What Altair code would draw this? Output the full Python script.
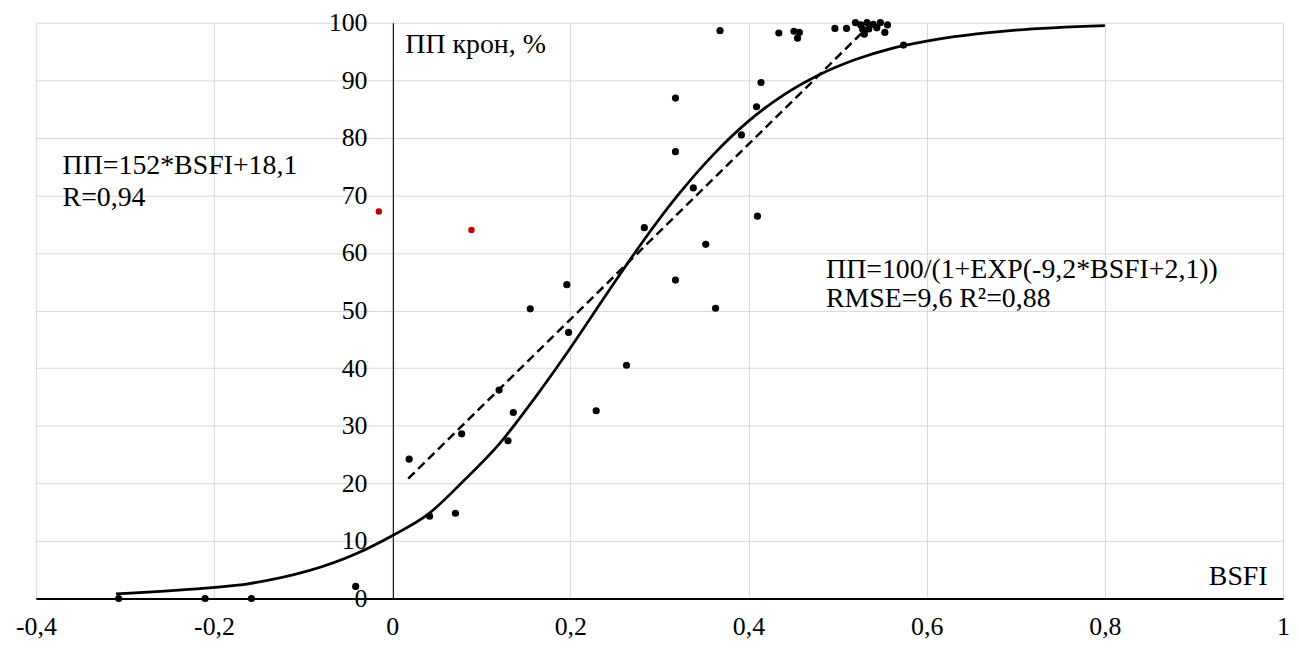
import altair as alt
import pandas as pd

# ---- data ----
pts_x = [-0.307, -0.210, -0.158, -0.041,
         0.019, 0.042, 0.071, 0.078, 0.120, 0.130, 0.136, 0.155, 0.196, 0.198,
         0.229, 0.263, 0.283, 0.318, 0.318, 0.318, 0.338, 0.352, 0.363, 0.368,
         0.392, 0.409, 0.410, 0.414, 0.434, 0.451, 0.457, 0.455, 0.497, 0.510,
         0.520, 0.526, 0.530, 0.533, 0.540, 0.544, 0.548, 0.553, 0.556, 0.535,
         0.528, 0.574]
pts_y = [0.0, 0.0, 0.0, 2.1,
         24.2, 14.3, 14.8, 28.6, 36.2, 27.4, 32.3, 50.3, 54.5, 46.2,
         32.6, 40.5, 64.4, 86.9, 77.6, 55.3, 71.3, 61.5, 50.4, 98.6,
         80.5, 85.4, 66.4, 89.6, 98.2, 98.5, 98.3, 97.3, 99.0, 99.0,
         100.0, 99.6, 98.0, 100.0, 99.7, 99.1, 100.0, 98.3, 99.6, 98.9,
         98.9, 96.1]

red_x = [-0.015, 0.089]
red_y = [67.2, 64.0]

curve_x = [-0.31, -0.21, -0.16, -0.04, 0.0, 0.04, 0.08, 0.12, 0.16, 0.20, 0.24,
           0.28, 0.32, 0.36, 0.40, 0.44, 0.48, 0.52, 0.56, 0.60, 0.70, 0.80]
curve_y = [0.8, 1.8, 2.6, 7.8, 10.9, 14.6, 20.4, 26.8, 34.8, 43.5, 52.7,
           61.7, 69.9, 77.0, 82.9, 87.5, 91.0, 93.6, 95.5, 96.8, 98.7, 99.5]

lin_x = [0.018, 0.531]
lin_y = [20.8, 98.8]

x_ticks = [-0.4, -0.2, 0, 0.2, 0.4, 0.6, 0.8, 1]
y_ticks = [0, 10, 20, 30, 40, 50, 60, 70, 80, 90, 100]

notes = ["ПП=152*BSFI+18,1", "R=0,94",
         "ПП=100/(1+EXP(-9,2*BSFI+2,1))", "RMSE=9,6 R²=0,88"]
note_x = [-0.370, -0.370, 0.487, 0.487]
note_y = [75.1, 69.6, 57.1, 52.0]

# ---- styling ----
FONT = "Liberation Serif"
W, H = 1254, 579
PAD_L, PAD_T, PAD_B = 28, 13, 41

xs = alt.Scale(domain=[-0.4, 1], nice=False, zero=False)
ys = alt.Scale(domain=[0, 100], nice=False, zero=False)

x_axis = alt.Axis(
    values=x_ticks,
    labelExpr="replace(replace(format(datum.value, '.1~f'), '.', ','), '\u2212', '-')",
    grid=True, gridColor="#d9d9d9", gridWidth=1,
    ticks=False, domainColor="black", domainWidth=2,
    labelFont=FONT, labelFontSize=26, labelColor="black", labelPadding=15,
    labelOverlap=False, labelFlush=False,
    title="BSFI", titleFont=FONT, titleFontSize=28, titleFontWeight="normal",
    titleColor="black", titleAngle=0, titleAlign="right", titleBaseline="middle",
    titleX=1238, titleY=-22,
)

y_axis = alt.Axis(
    values=y_ticks, offset=-359,
    grid=True, gridColor="#d9d9d9", gridWidth=1,
    ticks=False, domainColor="black", domainWidth=1,
    labelFont=FONT, labelFontSize=26, labelColor="black", labelPadding=26,
    labelOverlap=False, labelFlush=False,
    title="ПП крон, %", titleFont=FONT, titleFontSize=28, titleFontWeight="normal",
    titleColor="black", titleAngle=0, titleAlign="left", titleBaseline="middle",
    titleX=12, titleY=22,
)

x_enc = alt.X("x:Q", scale=xs, axis=x_axis)
y_enc = alt.Y("y:Q", scale=ys, axis=y_axis)

pts_df = pd.DataFrame({"x": pts_x, "y": pts_y})
red_df = pd.DataFrame({"x": red_x, "y": red_y})
curve_df = pd.DataFrame({"x": curve_x, "y": curve_y})
lin_df = pd.DataFrame({"x": lin_x, "y": lin_y})
notes_df = pd.DataFrame({"x": note_x, "y": note_y, "t": notes})

curve = alt.Chart(curve_df).mark_line(
    color="black", strokeWidth=2.75, interpolate="monotone"
).encode(x=x_enc, y=y_enc, order="x:Q")

lin = alt.Chart(lin_df).mark_line(
    color="black", strokeWidth=2.5, strokeDash=[9, 5]
).encode(x=x_enc, y=y_enc)

pts = alt.Chart(pts_df).mark_circle(
    color="black", opacity=1, size=52
).encode(x=x_enc, y=y_enc)

red = alt.Chart(red_df).mark_circle(
    color="#c00000", opacity=1, size=42
).encode(x=x_enc, y=y_enc)

txt = alt.Chart(notes_df).mark_text(
    font=FONT, fontSize=28, align="left", baseline="middle", color="black"
).encode(x=x_enc, y=y_enc, text="t:N")

chart = alt.layer(curve, lin, pts, red, txt).properties(
    width=W, height=H,
    autosize=alt.AutoSizeParams(type="none"),
    padding={"left": PAD_L, "top": PAD_T, "right": 8, "bottom": PAD_B},
).configure_view(stroke=None).configure_axis(
    labelFont=FONT, titleFont=FONT
).configure_text(font=FONT)

chart.save("out.html", embed_options={"renderer": "svg", "actions": False})
